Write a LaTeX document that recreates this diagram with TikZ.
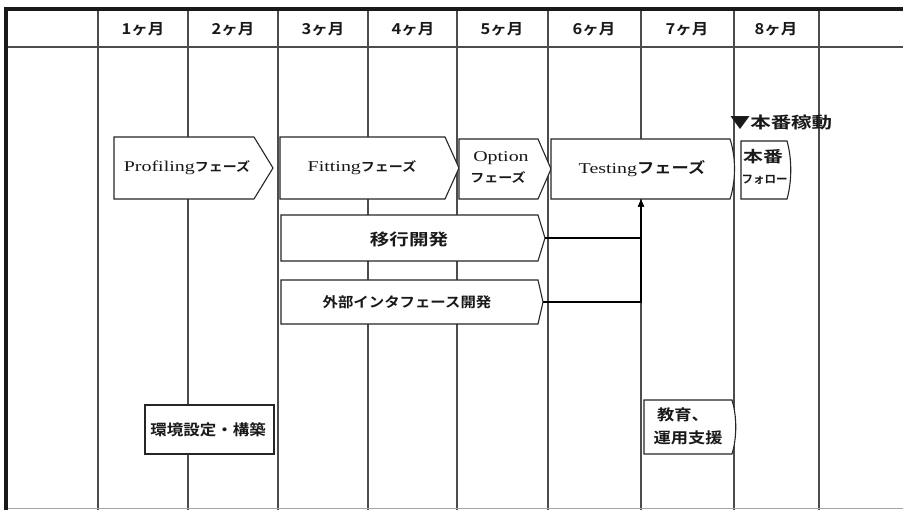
\documentclass[tikz,border=0pt]{standalone}
\usepackage{fontspec}
\setmainfont{Liberation Serif}[FakeStretch=1.33]
\newfontfamily\jpb{Noto Sans CJK JP Bold}
\usetikzlibrary{arrows.meta}
\newcommand\jps[2]{\jpb\addfontfeature{FakeStretch=#1}\fontsize{#2}{#2}\selectfont}
\tikzset{
  grid/.style={draw=black!70, line width=1.8pt},
  boxline/.style={draw=black!85, line width=1.1pt, fill=white},
  lbl/.style={inner sep=0pt, align=center, text=black!90},
  hdr/.style={inner sep=0pt, text=black!90, font={\jpb\addfontfeature{FakeStretch=1.1}\fontsize{15}{15}\selectfont}},
  conn/.style={draw=black, line width=1.2pt},
}
\newcommand\serifsz{\fontsize{15}{15}\selectfont}
% arrow box: name, left, top, right, tip, bottom
\newcommand\pentabox[6]{%
  \path[boxline] (#2,#3) -- (#4,#3) -- (#5,{(#3+#6)/2}) -- (#4,#6) -- (#2,#6) -- cycle;
  \coordinate (#1-tip) at (#5,{(#3+#6)/2});}
\newcommand\curvebox[6]{%
  \path[boxline] (#2,#3) -- (#4,#3) .. controls (#5,{#3+0.3*(#6-#3)}) and (#5,{#3+0.7*(#6-#3)}) .. (#4,#6) -- (#2,#6) -- cycle;
  \coordinate (#1-tip) at (#5,{(#3+#6)/2});}
\begin{document}
\begin{tikzpicture}[x=1pt,y=-1pt]
\useasboundingbox (0,0) rectangle (903,510);
\fill[white] (0,0) rectangle (903,510);
% grid
\foreach \gx in {98,188,278,368,457,548,641,734,819}
  \draw[grid] (\gx,9) -- (\gx,510);
\draw[draw=black!70, line width=2pt] (6,47) -- (903,47);
\draw[draw=black!35, line width=1.5pt] (6,508.5) -- (903,508.5);
\draw[line width=3.5pt, black!90] (6,7.5) -- (6,510);
\draw[line width=3.5pt, black!90] (4.3,9) -- (903,9);
% header
\node[hdr] (m1) at (143,29) {1ヶ月};
\node[hdr] (m2) at (233,29) {2ヶ月};
\node[hdr] (m3) at (323,29) {3ヶ月};
\node[hdr] (m4) at (413,29) {4ヶ月};
\node[hdr] (m5) at (502,29) {5ヶ月};
\node[hdr] (m6) at (594,29) {6ヶ月};
\node[hdr] (m7) at (687,29) {7ヶ月};
\node[hdr] (m8) at (776,29) {8ヶ月};
% boxes
\pentabox{prof}{114}{137}{254}{273}{199}
\pentabox{fit}{280}{137}{445}{459}{199}
\pentabox{opt}{459}{139}{538}{551}{199}
\curvebox{test}{551}{139}{730}{736}{199}
\curvebox{hon}{741}{141}{787}{792}{199}
\pentabox{ikou}{281}{215}{538}{545}{261}
\pentabox{gai}{281}{280}{538}{543}{324}
\path[boxline] (145,405) rectangle (274,454);
\curvebox{kyo}{644}{400}{732}{737}{454}
% texts
\node[lbl] (tprof) at (187,168) {\serifsz Profiling{\jps{1.12}{12.5}フェーズ}};
\node[lbl] (tfit) at (362,168) {\serifsz Fitting{\jps{1.12}{12.5}フェーズ}};
\node[lbl] (topt1) at (501,158) {\serifsz Option};
\node[lbl] (topt2) at (498,177.5) {\jps{1.12}{12.5}フェーズ};
\node[lbl] (ttest) at (642,169) {\serifsz Testing{\jps{1.15}{15}フェーズ}};
\node[lbl] (thon1) at (763,157) {\jps{1.28}{15.5}本番};
\node[lbl] (thon2) at (764.5,180) {\jps{1.0}{11.5}フォロー};
\node[lbl] (golive) at (781,122) {\jps{1.28}{16}▼本番稼動};
\node[lbl] (tikou) at (409,239) {\jps{1.22}{16}移行開発};
\node[lbl] (tgai) at (407,302) {\jps{1.1}{14}外部インタフェース開発};
\node[lbl] (tkan) at (208,430) {\jps{1.1}{15}環境設定・構築};
\node[lbl] (tkyo1) at (683,415) {\jps{1.15}{15}教育、};
\node[lbl] (tkyo2) at (688,438) {\jps{1.15}{15}運用支援};
% connectors
\coordinate (testb) at (641,199.6);
\draw[conn, -{Triangle[length=7pt,width=6pt]}] (gai-tip) -| (testb);
\draw[conn, -{Triangle[length=7pt,width=6pt]}] (ikou-tip) -| (testb);
\end{tikzpicture}
\end{document}
